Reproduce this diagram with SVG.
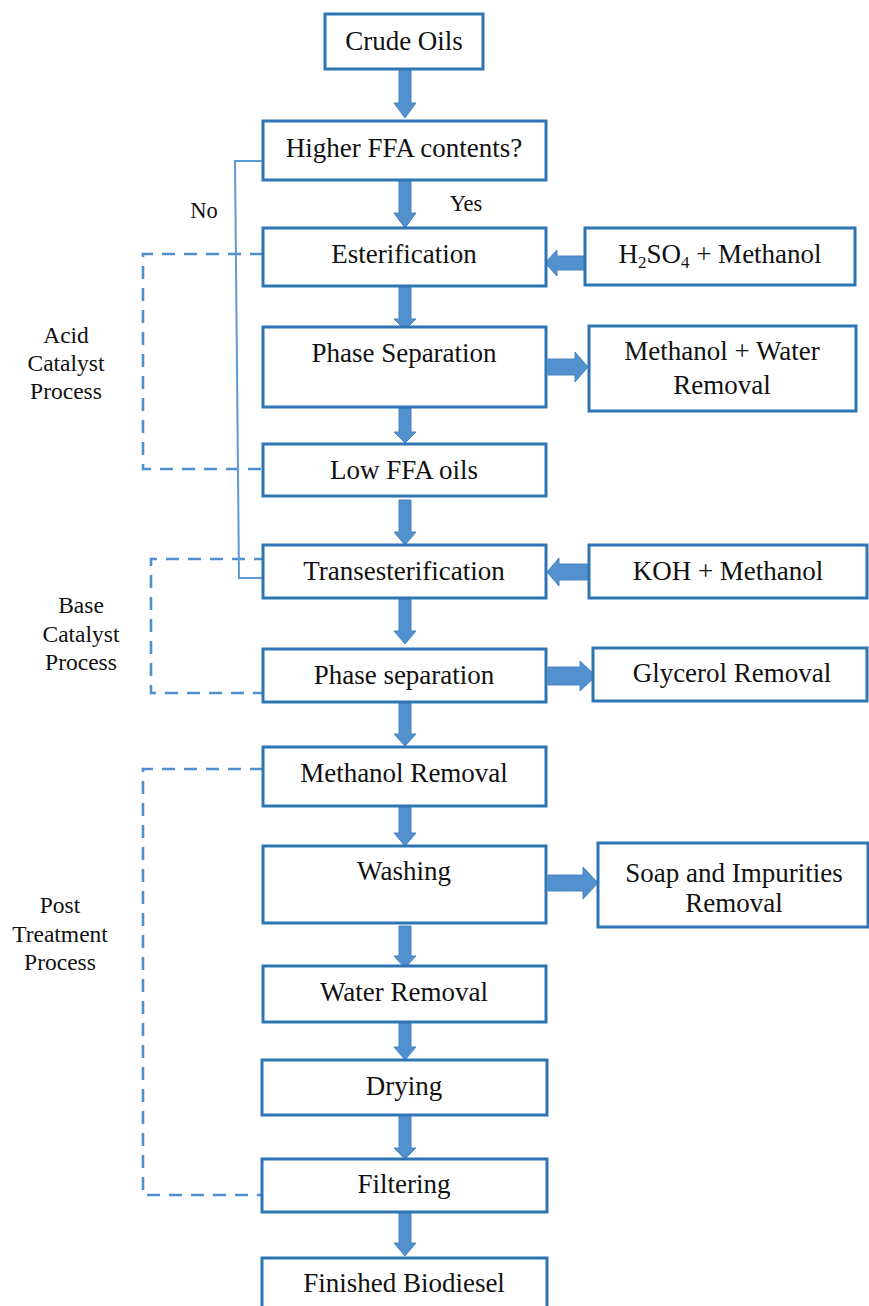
<svg xmlns="http://www.w3.org/2000/svg" width="869" height="1306" viewBox="0 0 869 1306">
<style>
.box{fill:#fff;stroke:#2E75B6;stroke-width:3}
.t{font-family:'Liberation Serif','Times New Roman',serif;font-size:27px;fill:#111;text-anchor:middle}
.s{font-family:'Liberation Serif','Times New Roman',serif;font-size:23.5px;fill:#111;text-anchor:middle}
.arr{fill:#5390CE;stroke:#4A84C0;stroke-width:1}
.dash{fill:none;stroke:#4F8FD0;stroke-width:2.6;stroke-dasharray:13 9}
.thin{fill:none;stroke:#5B9BD5;stroke-width:2}
</style>
<defs>
<marker id="ah" markerWidth="10" markerHeight="10" refX="9" refY="5" orient="auto" markerUnits="userSpaceOnUse">
<path d="M0,0 L10,5 L0,10 z" fill="#5B9BD5"/>
</marker>
</defs>
<rect width="869" height="1306" fill="#fff"/>

<g id="connectors">
<path class="dash" d="M263,254 H143 V469 H263"/>
<path class="dash" d="M267,559 H151 V693 H263"/>
<path class="dash" d="M263,769 H143 V1195 H263"/>
<path class="thin" d="M263,161 H235 L239,578 H272" marker-end="url(#ah)"/>
<polygon class="arr" points="399,70 411,70 411,103 416,103 405,118 394,103 399,103"/>
<polygon class="arr" points="399,181 411,181 411,213 416,213 405,228 394,213 399,213"/>
<polygon class="arr" points="399,287 411,287 411,319 416,319 405,330 394,319 399,319"/>
<polygon class="arr" points="399,408 411,408 411,432 416,432 405,443 394,432 399,432"/>
<polygon class="arr" points="399,500 411,500 411,532 416,532 405,545 394,532 399,532"/>
<polygon class="arr" points="399,599 411,599 411,631 416,631 405,644 394,631 399,631"/>
<polygon class="arr" points="399,703 411,703 411,734 416,734 405,746 394,734 399,734"/>
<polygon class="arr" points="399,807 411,807 411,833 416,833 405,846 394,833 399,833"/>
<polygon class="arr" points="399,926 411,926 411,956 416,956 405,968 394,956 399,956"/>
<polygon class="arr" points="399,1023 411,1023 411,1047 416,1047 405,1060 394,1047 399,1047"/>
<polygon class="arr" points="399,1116 411,1116 411,1148 416,1148 405,1159 394,1148 399,1148"/>
<polygon class="arr" points="399,1213 411,1213 411,1243 416,1243 405,1256 394,1243 399,1243"/>
<polygon class="arr" points="585,256 557,256 557,250 545,263 557,276 557,270 585,270"/>
<polygon class="arr" points="548,359 575,359 575,352 588,367 575,382 575,375 548,375"/>
<polygon class="arr" points="589,564 559,564 559,558 547,572 559,586 559,580 589,580"/>
<polygon class="arr" points="548,667 580,667 580,661 596,676 580,691 580,685 548,685"/>
<polygon class="arr" points="548,875 583,875 583,867 598,883 583,899 583,891 548,891"/>
</g>

<g id="crude-oils"><rect class="box" x="325" y="14" width="158" height="55"/><text class="t" x="404" y="50">Crude Oils</text></g>
<g id="higher-ffa"><rect class="box" x="263" y="121" width="283" height="59"/><text class="t" x="404" y="157">Higher FFA contents?</text></g>
<g id="label-yes"><text class="s" x="466" y="211" style="font-size:22.5px">Yes</text></g>
<g id="label-no"><text class="s" x="204" y="218" style="font-size:22.5px">No</text></g>
<g id="esterification"><rect class="box" x="263" y="228" width="283" height="58"/><text class="t" x="404" y="263">Esterification</text></g>
<g id="h2so4"><rect class="box" x="585" y="228" width="270" height="57"/><text class="t" x="720" y="263">H<tspan font-size="17" dy="5">2</tspan><tspan dy="-5">SO</tspan><tspan font-size="17" dy="5">4</tspan><tspan dy="-5"> + Methanol</tspan></text></g>
<g id="phase-separation-1"><rect class="box" x="263" y="327" width="283" height="80"/><text class="t" x="404" y="362">Phase Separation</text></g>
<g id="methanol-water-removal"><rect class="box" x="589" y="326" width="267" height="85"/><text class="t" x="722" y="360">Methanol + Water</text><text class="t" x="722" y="394">Removal</text></g>
<g id="low-ffa"><rect class="box" x="263" y="444" width="283" height="52"/><text class="t" x="404" y="479">Low FFA oils</text></g>
<g id="acid-label"><text class="s" x="66" y="343">Acid</text><text class="s" x="66" y="371">Catalyst</text><text class="s" x="66" y="399">Process</text></g>
<g id="transesterification"><rect class="box" x="263" y="545" width="283" height="53"/><text class="t" x="404" y="580">Transesterification</text></g>
<g id="koh"><rect class="box" x="589" y="545" width="278" height="53"/><text class="t" x="728" y="580">KOH + Methanol</text></g>
<g id="phase-separation-2"><rect class="box" x="263" y="649" width="283" height="53"/><text class="t" x="404" y="684">Phase separation</text></g>
<g id="glycerol-removal"><rect class="box" x="593" y="648" width="274" height="53"/><text class="t" x="732" y="682">Glycerol Removal</text></g>
<g id="base-label"><text class="s" x="81" y="613">Base</text><text class="s" x="81" y="642">Catalyst</text><text class="s" x="81" y="670">Process</text></g>
<g id="methanol-removal"><rect class="box" x="263" y="747" width="283" height="59"/><text class="t" x="404" y="782">Methanol Removal</text></g>
<g id="washing"><rect class="box" x="263" y="846" width="283" height="77"/><text class="t" x="404" y="880">Washing</text></g>
<g id="soap-removal"><rect class="box" x="598" y="843" width="270" height="84"/><text class="t" x="734" y="882">Soap and Impurities</text><text class="t" x="734" y="912">Removal</text></g>
<g id="post-label"><text class="s" x="60" y="913">Post</text><text class="s" x="60" y="942">Treatment</text><text class="s" x="60" y="970">Process</text></g>
<g id="water-removal"><rect class="box" x="263" y="966" width="283" height="56"/><text class="t" x="404" y="1001">Water Removal</text></g>
<g id="drying"><rect class="box" x="262" y="1060" width="285" height="55"/><text class="t" x="404" y="1095">Drying</text></g>
<g id="filtering"><rect class="box" x="262" y="1159" width="285" height="53"/><text class="t" x="404" y="1193">Filtering</text></g>
<g id="finished-biodiesel"><rect class="box" x="262" y="1258" width="285" height="60"/><text class="t" x="404" y="1292">Finished Biodiesel</text></g>
</svg>
